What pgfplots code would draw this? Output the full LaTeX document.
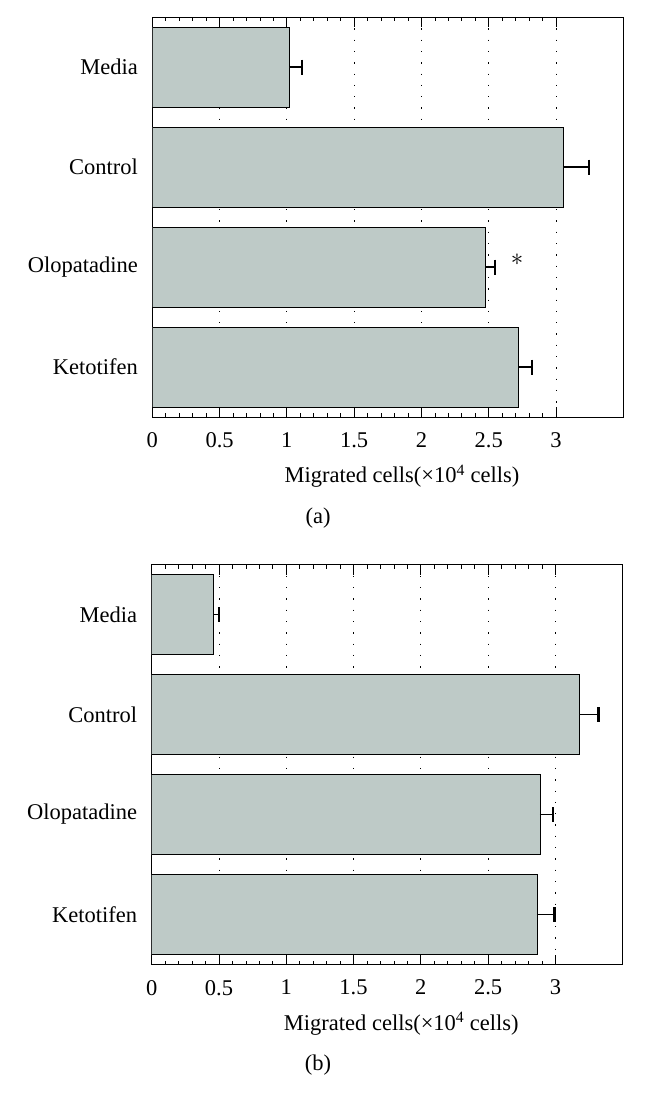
\documentclass[border=0pt]{standalone}
\usepackage{fontspec}
\setmainfont{Liberation Serif}
\usepackage{pgfplots}
\pgfplotsset{compat=1.18}
\definecolor{barfill}{RGB}{190,202,199}
\newcommand{\fs}{\fontsize{22.5}{26}\selectfont}
\pgfplotsset{
  panel/.style={
    scale only axis, width=471pt, height=400pt,
    anchor=south west,
    xmin=0, xmax=3.5, ymin=-0.5, ymax=3.5, y dir=reverse,
    xtick={0,0.5,1,1.5,2,2.5,3},
    xticklabels={0,0.5,1,1.5,2,2.5,3},
    minor x tick num=4,
    tick align=inside,
    xtick pos=both, xticklabel pos=lower,
    major tick length=10pt, minor tick length=4pt,
    every tick/.style={black, line width=0.8pt},
    ytick={0,1,2,3},
    yticklabels={Media,Control,Olopatadine,Ketotifen},
    ytick style={draw=none},
    yticklabel style={font=\fs, xshift=-11pt},
    xticklabel style={font=\fs, yshift=-12pt},
    /pgf/number format/assume math mode=true,
    xmajorgrids,
    major grid style={black, line width=0.9pt, dash pattern=on 1.3pt off 10pt},
    axis line style={line width=0.9pt},
    xlabel={Migrated cells(×10\textsuperscript{4} cells)},
    xlabel style={font=\fs, at={(ticklabel cs:0.53)}, anchor=near ticklabel, yshift=-10pt},
    bar width=0.8,
  },
  bars/.style={
    xbar, fill=barfill, draw=black, line width=0.8pt,
    error bars/.cd, x dir=plus, x explicit,
    error bar style={line width=1.4pt},
    error mark options={rotate=90, mark size=7.5pt, line width=2.2pt},
  },
}
\begin{document}
\begin{tikzpicture}
\path[use as bounding box, fill=white] (0pt,0pt) rectangle (656pt,-1103pt);
\begin{axis}[panel, at={(152.3pt,-417pt)}]
\addplot[bars] coordinates {
  (1.02,0) +- (0.09,0)
  (3.056,1) +- (0.19,0)
  (2.478,2) +- (0.07,0)
  (2.72,3) +- (0.10,0)
};
\node[font=\fontsize{34}{34}\selectfont, inner sep=0pt] at (axis cs:2.71,1.93) {$\ast$};
\end{axis}
\node[font=\fs] at (318pt,-518pt) {(a)};
\begin{axis}[panel, at={(151.7pt,-964.5pt)}]
\addplot[bars] coordinates {
  (0.457,0) +- (0.043,0)
  (3.18,1) +- (0.14,0)
  (2.885,2) +- (0.095,0)
  (2.863,3) +- (0.13,0)
};
\end{axis}
\node[font=\fs] at (318pt,-1065pt) {(b)};
\end{tikzpicture}
\end{document}
